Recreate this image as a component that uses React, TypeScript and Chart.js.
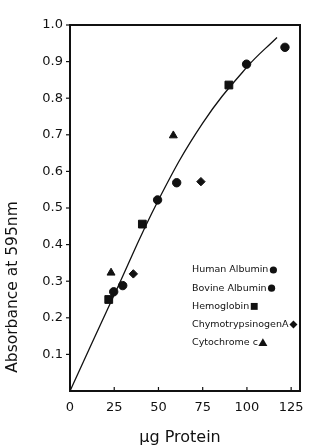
import React, { useEffect, useRef } from "react";
import { Chart, registerables } from "chart.js";

Chart.register(...registerables);

const humanX = [24.7, 49.5, 99.8];
const humanY = [0.271, 0.522, 0.893];
const bovineX = [29.8, 60.3, 121.5];
const bovineY = [0.288, 0.569, 0.939];
const hemoX = [21.9, 40.9, 89.8];
const hemoY = [0.25, 0.456, 0.836];
const chymoX = [35.8, 74];
const chymoY = [0.32, 0.572];
const cytoX = [23.2, 58.4];
const cytoY = [0.323, 0.698];
const curveX = [0, 25, 50, 75, 100, 117];
const curveY = [0, 0.263, 0.522, 0.732, 0.885, 0.966];

const legendLabels = ["Human Albumin", "Bovine Albumin", "Hemoglobin", "ChymotrypsinogenA", "Cytochrome c"];
const xTitle = "µg Protein";
const yTitle = "Absorbance at 595nm";

const INK = "#111";
const FONT = "'DejaVu Sans', sans-serif";

const pts = (xs: number[], ys: number[]) => xs.map((x, i) => ({ x, y: ys[i] }));

function marker(ctx: CanvasRenderingContext2D, style: string, x: number, y: number, r: number) {
  ctx.beginPath();
  if (style === "circle") {
    ctx.arc(x, y, r, 0, Math.PI * 2);
  } else if (style === "rect") {
    ctx.rect(x - r * 0.75, y - r * 0.75, r * 1.5, r * 1.5);
  } else if (style === "rectRot") {
    ctx.moveTo(x, y - r);
    ctx.lineTo(x + r, y);
    ctx.lineTo(x, y + r);
    ctx.lineTo(x - r, y);
    ctx.closePath();
  } else if (style === "triangle") {
    ctx.moveTo(x, y - r);
    ctx.lineTo(x + r, y + r * 0.7);
    ctx.lineTo(x - r, y + r * 0.7);
    ctx.closePath();
  }
  ctx.fill();
}

const decorPlugin = {
  id: "decor",
  afterDraw(chart: any) {
    const { ctx, chartArea } = chart;
    const { left, top, right, bottom } = chartArea;
    const xs = chart.scales.x;
    const ys = chart.scales.y;
    ctx.save();
    ctx.strokeStyle = INK;
    ctx.lineWidth = 2;
    ctx.strokeRect(left, top, right - left, bottom - top);
    ctx.lineWidth = 1.2;
    ys.ticks.forEach((t: any) => {
      if (t.value === 0) return;
      const py = ys.getPixelForValue(t.value);
      ctx.beginPath();
      ctx.moveTo(left - 4, py);
      ctx.lineTo(left, py);
      ctx.stroke();
    });
    xs.ticks.forEach((t: any) => {
      if (t.value === 0) return;
      const px = xs.getPixelForValue(t.value);
      ctx.beginPath();
      ctx.moveTo(px, bottom);
      ctx.lineTo(px, bottom - 4);
      ctx.stroke();
    });
    ctx.fillStyle = INK;
    ctx.textAlign = "center";
    ctx.textBaseline = "middle";
    ctx.font = `15.5px ${FONT}`;
    ctx.save();
    ctx.translate(13, bottom - 104);
    ctx.rotate(-Math.PI / 2);
    ctx.fillText(yTitle, 0, 0);
    ctx.restore();
    ctx.font = `16px ${FONT}`;
    ctx.fillText(xTitle, left + 110, bottom + 47);

    ctx.font = `9.5px ${FONT}`;
    ctx.textAlign = "left";
    const lx = left + 122;
    const sizes = [3.6, 3.6, 4.6, 4, 4.5];
    chart.data.datasets
      .filter((d: any) => d.legendItem)
      .forEach((d: any, i: number) => {
        const ly = top + 245 + i * 18.2;
        ctx.fillText(d.label, lx, ly);
        const w = ctx.measureText(d.label).width;
        marker(ctx, d.pointStyle, lx + w + 5, ly, sizes[i]);
      });
    ctx.restore();
  },
};

export default function App() {
  const ref = useRef<HTMLCanvasElement | null>(null);
  useEffect(() => {
    if (!ref.current) return;
    const common = { backgroundColor: INK, borderColor: INK, showLine: false, legendItem: true };
    const chart = new Chart(ref.current, {
      type: "scatter",
      data: {
        datasets: [
          {
            type: "line",
            label: "curve",
            data: pts(curveX, curveY),
            borderColor: INK,
            borderWidth: 1.3,
            pointRadius: 0,
            tension: 0.4,
            fill: false,
          } as any,
          { ...common, label: legendLabels[0], data: pts(humanX, humanY), pointStyle: "circle", pointRadius: 4.2 },
          { ...common, label: legendLabels[1], data: pts(bovineX, bovineY), pointStyle: "circle", pointRadius: 4.2 },
          { ...common, label: legendLabels[2], data: pts(hemoX, hemoY), pointStyle: "rect", pointRadius: 5.5 },
          { ...common, label: legendLabels[3], data: pts(chymoX, chymoY), pointStyle: "rectRot", pointRadius: 4.2 },
          { ...common, label: legendLabels[4], data: pts(cytoX, cytoY), pointStyle: "triangle", pointRadius: 4.6 },
        ] as any,
      },
      options: {
        animation: false,
        responsive: false,
        layout: { padding: { top: 25, right: 35, left: 0, bottom: 0 } },
        plugins: { legend: { display: false }, tooltip: { enabled: false } },
        scales: {
          x: {
            type: "linear",
            min: 0,
            max: 130,
            grid: { display: false, drawTicks: false },
            border: { display: false },
            ticks: {
              stepSize: 25,
              includeBounds: false,
              color: INK,
              font: { family: FONT, size: 13 },
              padding: 9,
              maxRotation: 0,
            },
            afterFit: (s: any) => {
              s.height = 57;
            },
          },
          y: {
            type: "linear",
            min: 0,
            max: 1,
            grid: { display: false, drawTicks: false },
            border: { display: false },
            ticks: {
              stepSize: 0.1,
              color: INK,
              font: { family: FONT, size: 13 },
              padding: 7,
              callback: (v: any) => (Math.abs(v) < 1e-9 ? "" : Number(v).toFixed(1)),
            },
            afterFit: (s: any) => {
              s.width = 70;
            },
          },
        },
      },
      plugins: [decorPlugin],
    });
    return () => chart.destroy();
  }, []);
  return (
    <div style={{ position: "fixed", left: 0, top: 0, width: 335, height: 448, background: "#fff" }}>
      <canvas ref={ref} width={335} height={448} style={{ width: 335, height: 448 }} />
    </div>
  );
}
